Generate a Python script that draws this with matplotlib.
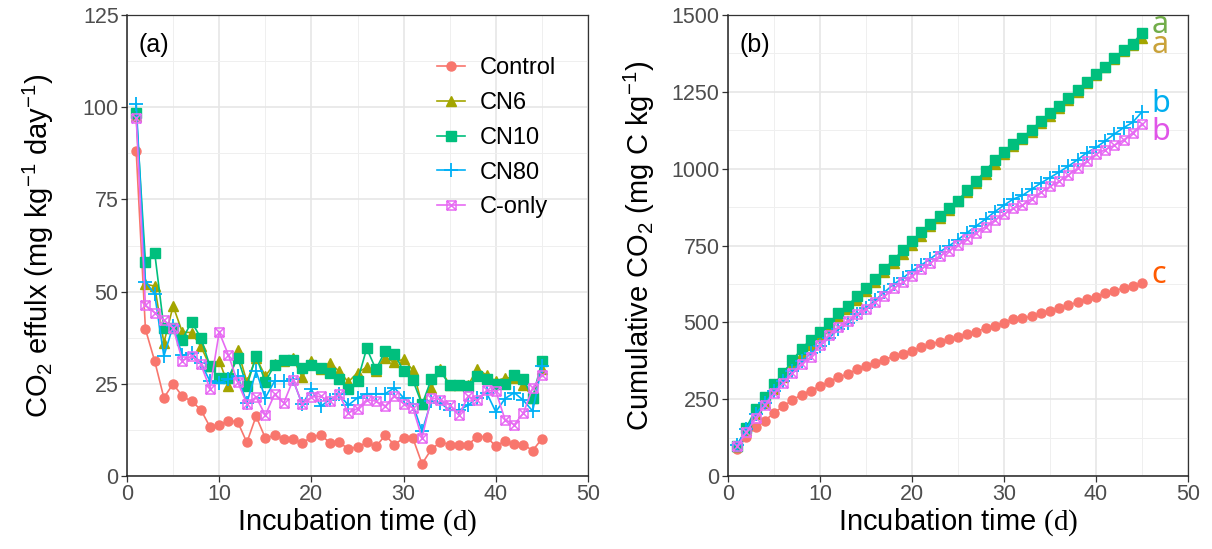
import numpy as np
import matplotlib
matplotlib.use("Agg")
from matplotlib import pyplot as plt
from matplotlib.path import Path
from matplotlib.ticker import MultipleLocator

plt.rcParams['font.family'] = ['Liberation Sans', 'DejaVu Sans']
plt.rcParams['mathtext.fontset'] = 'custom'
plt.rcParams['mathtext.rm'] = 'Liberation Serif'
plt.rcParams['mathtext.default'] = 'regular'

# incubation days
days = np.arange(1, 46)

# daily CO2 efflux (mg kg-1 day-1)
control = [88, 39.8, 31.2, 21.2, 25.0, 21.6, 20.3, 18.0, 13.3, 13.8, 15.0, 14.7, 9.1, 16.2, 10.3,
           11.0, 10.1, 9.9, 9.0, 10.5, 11.2, 9.0, 9.1, 7.4, 7.8, 9.1, 8.0, 11.0, 8.5, 10.3,
           10.3, 3.3, 7.2, 9.2, 8.5, 8.5, 8.5, 10.7, 10.7, 8.0, 9.6, 8.7, 8.5, 6.9, 10.1]
cn6 = [97.5, 52, 51.5, 36.1, 46.1, 39.0, 38.9, 35.2, 29.8, 31.3, 24.4, 34.3, 25.5, 32.1, 27.1,
       30.4, 31.3, 31.9, 26.8, 31.3, 28.9, 30.7, 28.4, 25.5, 28.0, 29.5, 28.5, 32.1, 30.8, 31.7,
       28.7, 19.4, 23.8, 29.1, 24.6, 24.8, 24.6, 29.1, 27.3, 25.7, 26.6, 26.6, 24.8, 21.2, 29.1]
cn10 = [98.5, 58, 60.6, 40.2, 40.2, 37.0, 41.8, 37.5, 29.8, 26.6, 26.6, 32.1, 24.4, 32.5, 25.5,
        30.1, 31.4, 31.4, 29.3, 30.1, 29.2, 28.0, 26.2, 23.5, 25.8, 34.6, 28.9, 33.9, 33.2, 28.4,
        26.0, 19.4, 26.2, 28.4, 24.6, 24.8, 24.4, 27.1, 26.2, 25.0, 25.0, 27.5, 26.2, 21.2, 31.2]
cn80 = [101, 52.7, 49.3, 32.5, 40.7, 32.7, 33.4, 30.7, 25.7, 25.3, 26.2, 27.1, 19.8, 28.4, 21.2,
        25.7, 25.7, 26.2, 19.4, 23.5, 18.9, 20.7, 22.1, 19.2, 21.2, 22.3, 22.3, 22.3, 23.9, 21.2,
        19.4, 12.1, 20.3, 19.8, 17.8, 17.8, 19.2, 21.2, 22.6, 17.4, 21.0, 22.6, 20.5, 17.6, 29.8]
c_only = [97, 46.3, 44.3, 42.2, 40.2, 31.3, 32.5, 30.3, 23.7, 39.0, 32.8, 25.5, 19.6, 21.4, 16.5,
          22.1, 19.8, 26.0, 19.6, 21.4, 21.6, 20.3, 22.1, 17.1, 18.3, 20.7, 20.3, 18.9, 21.8, 19.6,
          18.5, 10.3, 21.2, 20.7, 19.2, 16.5, 21.6, 20.5, 23.2, 23.0, 15.3, 13.9, 17.1, 23.9, 27.5]

# cumulative CO2 (mg C kg-1)
control_cum = [88, 128, 159, 180, 205, 227, 247, 265, 278, 292, 307, 322, 331, 347, 358,
               369, 379, 389, 398, 408, 419, 428, 437, 445, 453, 462, 470, 481, 489, 499,
               510, 513, 520, 529, 538, 546, 555, 566, 576, 584, 594, 603, 611, 618, 628]
cn6_cum = [98, 150, 201, 237, 283, 322, 361, 396, 426, 457, 482, 516, 542, 574, 601,
           631, 663, 694, 721, 753, 781, 812, 841, 866, 894, 924, 952, 984, 1015, 1047,
           1075, 1095, 1119, 1148, 1172, 1197, 1222, 1251, 1278, 1304, 1330, 1357, 1382, 1403, 1425]
cn10_cum = [99, 157, 217, 257, 298, 335, 376, 414, 444, 470, 497, 529, 553, 586, 611,
            641, 673, 704, 734, 764, 793, 821, 847, 871, 896, 931, 960, 994, 1027, 1055,
            1081, 1101, 1127, 1155, 1180, 1205, 1229, 1256, 1282, 1307, 1332, 1360, 1386, 1407, 1443]
cn80_cum = [101, 154, 203, 236, 276, 309, 342, 373, 399, 424, 450, 477, 497, 526, 547,
            572, 598, 624, 644, 667, 686, 707, 729, 748, 769, 792, 814, 836, 860, 881,
            901, 913, 933, 953, 971, 989, 1008, 1029, 1052, 1069, 1090, 1113, 1133, 1151, 1185]
c_only_cum = [97, 143, 188, 230, 270, 301, 334, 364, 388, 427, 460, 485, 505, 526, 543,
              565, 585, 611, 630, 652, 673, 693, 716, 733, 751, 772, 792, 811, 833, 852,
              871, 881, 902, 923, 942, 959, 980, 1001, 1024, 1047, 1062, 1076, 1093, 1117, 1145]

labels = ['Control', 'CN6', 'CN10', 'CN80', 'C-only']
colors = ['#F8766D', '#A3A500', '#00BF7D', '#00B0F6', '#E76BF3']
# significance letters and the height of their baseline
letters = ['c', 'a', 'a', 'b', 'b']
letter_y = [628, 1376, 1442, 1185, 1093]
letter_colors = ['#FF5A00', '#C9A23A', '#72AD4A', '#00AEEF', '#E055E8']

# square with a cross, like ggplot shape 7
sq_x = Path([(-1, -1), (1, -1), (1, 1), (-1, 1), (-1, -1), (-1, -1), (1, 1), (-1, 1), (1, -1)],
            [Path.MOVETO, Path.LINETO, Path.LINETO, Path.LINETO, Path.CLOSEPOLY,
             Path.MOVETO, Path.LINETO, Path.MOVETO, Path.LINETO])
styles = [dict(marker='o', ms=6.5),
          dict(marker='^', ms=7.5),
          dict(marker='s', ms=6.5),
          dict(marker='+', ms=10.5, mew=1.3),
          dict(marker=sq_x, ms=6.5, mfc='none', mew=1.1)]

daily = [control, cn6, cn10, cn80, c_only]
cumul = [control_cum, cn6_cum, cn10_cum, cn80_cum, c_only_cum]

W, H = 1212, 549
fig = plt.figure(figsize=(W / 100, H / 100), dpi=100)
ax1 = fig.add_axes([127 / W, 73 / H, 461 / W, 461 / H])
ax2 = fig.add_axes([728 / W, 73 / H, 460 / W, 461 / H])


def style_axes(ax, ymax, ystep):
    ax.set_xlim(0, 50)
    ax.set_ylim(0, ymax)
    ax.xaxis.set_major_locator(MultipleLocator(10))
    ax.xaxis.set_minor_locator(MultipleLocator(5))
    ax.yaxis.set_major_locator(MultipleLocator(ystep))
    ax.yaxis.set_minor_locator(MultipleLocator(ystep / 2))
    ax.grid(which='major', color='#E6E6E6', lw=1.2)
    ax.grid(which='minor', color='#EFEFEF', lw=0.7)
    ax.set_axisbelow(True)
    ax.tick_params(which='major', length=4, width=0.9, color='#333333',
                   labelsize=15.5, labelcolor='#4D4D4D', pad=2)
    ax.tick_params(which='minor', length=0)
    for s in ['left', 'bottom']:
        ax.spines[s].set_color('#222222')
        ax.spines[s].set_linewidth(1.1)
    for s in ['top', 'right']:
        ax.spines[s].set_color('#333333')
        ax.spines[s].set_linewidth(0.9)
    ax.set_xlabel(r'Incubation time $\mathrm{(d)}$', fontsize=21, labelpad=1)
    ax.yaxis.set_label_coords(-0.155, 0.5)


style_axes(ax1, 125, 25)
style_axes(ax2, 1500, 250)

for i in range(5):
    ax1.plot(days, daily[i], color=colors[i], lw=1.2, label=labels[i], **styles[i])
    ax2.plot(days, cumul[i], color=colors[i], lw=1.2, **styles[i])
    ax2.text(46, letter_y[i], letters[i], color=letter_colors[i], fontsize=22,
             family='Noto Sans', va='baseline', ha='left', clip_on=False)

ax1.set_ylabel(r'CO$_2$ effulx (mg kg$^{-1}$ day$^{-1}$)', fontsize=21)
ax2.set_ylabel(r'Cumulative CO$_2$ (mg C kg$^{-1}$)', fontsize=21)

ax1.text(0.024, 0.935, '(a)', transform=ax1.transAxes, fontsize=18, va='center')
ax2.text(0.024, 0.935, '(b)', transform=ax2.transAxes, fontsize=18, va='center')

ax1.legend(loc='upper left', bbox_to_anchor=(0.672, 0.908), frameon=False, fontsize=17,
           handlelength=1.2, handletextpad=0.64, labelspacing=0.54, borderpad=0, borderaxespad=0)

plt.savefig('out.png', dpi=100)
